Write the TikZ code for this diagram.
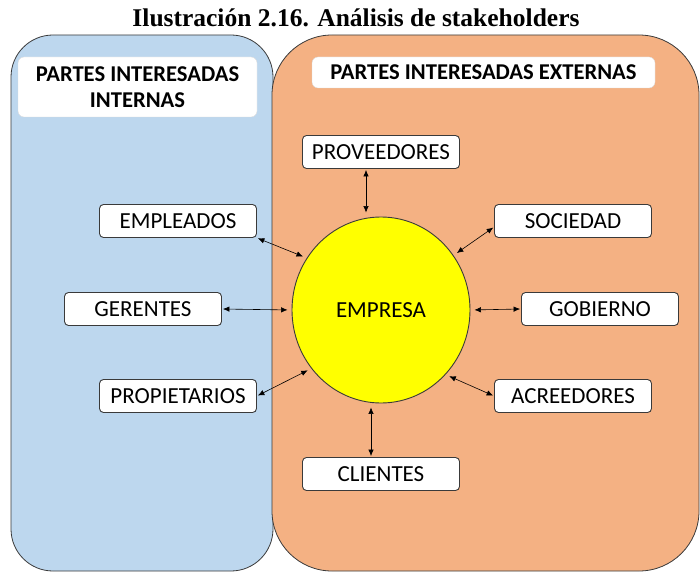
\documentclass[tikz,border=0pt]{standalone}
\usepackage{fontspec}
\setmainfont{Liberation Serif}
\newfontfamily\calibri{Carlito}
\usetikzlibrary{arrows.meta, shapes.geometric}

\definecolor{bluepanel}{HTML}{BDD7EE}
\definecolor{orangepanel}{HTML}{F4B183}
\definecolor{edgegray}{HTML}{3A3A3A}
\definecolor{coreyellow}{RGB}{255,255,0}

\begin{document}
\begin{tikzpicture}[
    x=1pt, y=-1pt,
    % GLOBAL CFG
    font=\calibri\fontsize{23}{26}\selectfont,
    >={Latex[length=6.5pt,width=5.5pt]},
    % Styles
    panel/.style={
        rectangle,
        draw=edgegray,
        line width=.8pt,
        inner sep=0pt,
    },
    header/.style={
        rectangle,
        rounded corners=6pt,
        fill=white,
        draw=white!85!black,
        line width=.3pt,
        align=center,
        inner sep=0pt,
        font=\calibri\bfseries\fontsize{22.6}{26}\selectfont,
    },
    actor/.style={
        rectangle,
        rounded corners=4pt,
        draw=edgegray,
        fill=white,
        line width=.9pt,
        minimum width=157pt,
        minimum height=33pt,
        inner sep=0pt,
    },
    core/.style={
        ellipse,
        draw=edgegray,
        fill=coreyellow,
        line width=.9pt,
        minimum width=178pt,
        minimum height=186pt,
        inner sep=0pt,
    },
    link/.style={
        <->,
        line width=.6pt,
        shorten <=1pt,
        shorten >=4pt,
    },
]
\useasboundingbox (0,0) rectangle (700,572);

% Title
\node[font=\bfseries\fontsize{25.5}{28}\selectfont] (title) at (356,18) {Ilustración 2.16. Análisis de stakeholders};

% Background panels
\node[panel, fill=bluepanel, rounded corners=42pt, minimum width=262pt, minimum height=536pt] (internas) at (142,303) {};
\node[panel, fill=orangepanel, rounded corners=60pt, minimum width=427pt, minimum height=536pt] (externas) at (485.5,303) {};

% Panel headers
\node[header, minimum width=239pt, minimum height=60pt] (hdrint) at (137.5,87) {PARTES INTERESADAS\\INTERNAS};
\node[header, minimum width=343pt, minimum height=31pt] (hdrext) at (483.5,72.5) {PARTES INTERESADAS EXTERNAS};

% Central company
\node[core] (empresa) at (381,310) {EMPRESA};

% Stakeholders
\node[actor] (proveedores) at (381,152) {PROVEEDORES};
\node[actor] (empleados) at (178,221) {EMPLEADOS};
\node[actor] (sociedad) at (573,221) {SOCIEDAD};
\node[actor] (gerentes) at (143,309) {GERENTES};
\node[actor] (gobierno) at (600,309) {GOBIERNO};
\node[actor] (propietarios) at (178,396) {PROPIETARIOS};
\node[actor] (acreedores) at (573,396) {ACREEDORES};
\node[actor] (clientes) at (381,474) {CLIENTES};

% Connections
\draw [link] ([xshift=-15pt]proveedores.south) -- ([xshift=-15pt]empresa.north);
\draw [link] ([xshift=-10pt]clientes.north) -- ([xshift=-10pt]empresa.south);
\draw [link] (empleados.south east) -- (empresa.145);
\draw [link] ([yshift=-6pt]sociedad.west) -- (empresa.37);
\draw [link] (gerentes.east) -- (empresa.west);
\draw [link] (gobierno.west) -- (empresa.east);
\draw [link] (propietarios.east) -- (empresa.220);
\draw [link] (acreedores.west) -- (empresa.315);

\end{tikzpicture}
\end{document}
